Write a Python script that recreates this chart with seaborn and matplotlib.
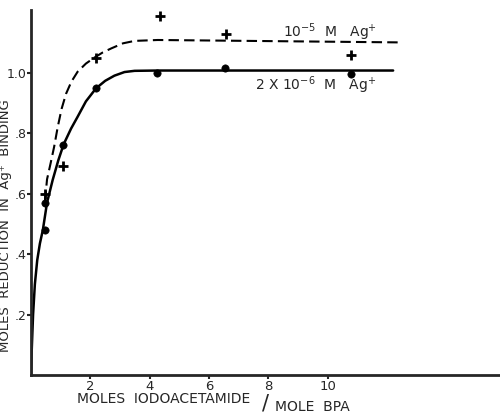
import numpy as np
import pandas as pd
import matplotlib
matplotlib.use("Agg")
import matplotlib.pyplot as plt
import seaborn as sns

x_ag6 = [0.47, 0.48, 1.08, 2.19, 4.26, 6.53, 10.77]
y_ag6 = [0.48, 0.57, 0.76, 0.95, 1.00, 1.017, 0.995]

x_ag5 = [0.48, 1.09, 2.19, 4.33, 6.56, 10.78]
y_ag5 = [0.60, 0.69, 1.05, 1.188, 1.129, 1.06]

# curvas trazadas a mano (leidas punto a punto)
curva_ag6_x = [0.0, 0.02, 0.07, 0.13, 0.21, 0.30, 0.40, 0.54, 0.73, 0.92, 1.10,
               1.35, 1.57, 1.85, 2.19, 2.50, 2.81, 3.15, 3.49, 4.27, 12.2]
curva_ag6_y = [0.0, 0.07, 0.20, 0.30, 0.38, 0.435, 0.48, 0.57, 0.645, 0.71, 0.763,
               0.815, 0.854, 0.905, 0.948, 0.973, 0.99, 1.002, 1.006, 1.007, 1.007]

curva_ag5_x = [0.47, 0.54, 0.66, 0.78, 0.90, 1.03, 1.18, 1.36, 1.57, 1.85, 2.14,
               2.42, 2.70, 3.10, 3.49, 4.27, 12.45]
curva_ag5_y = [0.575, 0.647, 0.70, 0.755, 0.82, 0.88, 0.93, 0.97, 1.003, 1.03, 1.05,
               1.067, 1.08, 1.097, 1.105, 1.108, 1.10]

y_ticks = [0.2, 0.4, 0.6, 0.8, 1.0]
y_tick_labels = [".2", ".4", ".6", ".8", "1.0"]
x_ticks = [2, 4, 6, 8, 10]
x_tick_labels = ["2", "4", "6", "8", "10"]

sns.set_style("ticks")
plt.rcParams["font.family"] = ["DejaVu Sans"]

fig = plt.figure(figsize=(5, 4.19), dpi=100)
ax = fig.add_axes([0.062, 0.105, 0.938, 0.871])

df6 = pd.DataFrame({"x": curva_ag6_x, "y": curva_ag6_y})
df5 = pd.DataFrame({"x": curva_ag5_x, "y": curva_ag5_y})
sns.lineplot(data=df6, x="x", y="y", ax=ax, color="black", linewidth=1.8,
             estimator=None, sort=False)
sns.lineplot(data=df5, x="x", y="y", ax=ax, color="black", linewidth=1.5,
             estimator=None, sort=False, linestyle=(0, (5, 2.5)))

sns.scatterplot(x=x_ag6, y=y_ag6, ax=ax, marker="o", s=28, color="black",
                edgecolor="black", zorder=3)
sns.scatterplot(x=x_ag5, y=y_ag5, ax=ax, marker="+", s=50, color="black",
                linewidth=2, zorder=3)

# etiquetas de las curvas
ax.text(8.5, 1.117, r"10$^{-5}$  M   Ag$^{+}$", fontsize=10, va="baseline", ha="left")
ax.text(7.55, 0.942, r"2 X 10$^{-6}$  M   Ag$^{+}$", fontsize=10, va="baseline", ha="left")

ax.set_xlim(0, 15.8)
ax.set_ylim(0, 1.207)
ax.set_xticks(x_ticks)
ax.set_xticklabels(x_tick_labels, fontsize=9.5)
ax.set_yticks(y_ticks)
ax.set_yticklabels(y_tick_labels, fontsize=9)
ax.tick_params(axis="both", direction="out", length=3, width=1.5, pad=0.5)

sns.despine(ax=ax)
for s in ["left", "bottom"]:
    ax.spines[s].set_linewidth(2)

ax.set_xlabel("")
ax.set_ylabel("MOLES  REDUCTION  IN  Ag\u207a  BINDING", fontsize=9.5)
ax.yaxis.set_label_coords(-0.04, 0.41)

fig.text(77 / 500, 1 - 399 / 419, "MOLES  IODOACETAMIDE", fontsize=10,
         ha="left", va="center")
fig.text(266 / 500, 1 - 403 / 419, "/", fontsize=15, ha="center", va="center")
fig.text(275 / 500, 1 - 407 / 419, "MOLE  BPA", fontsize=10, ha="left", va="center")

fig.savefig("out.png", dpi=100)
